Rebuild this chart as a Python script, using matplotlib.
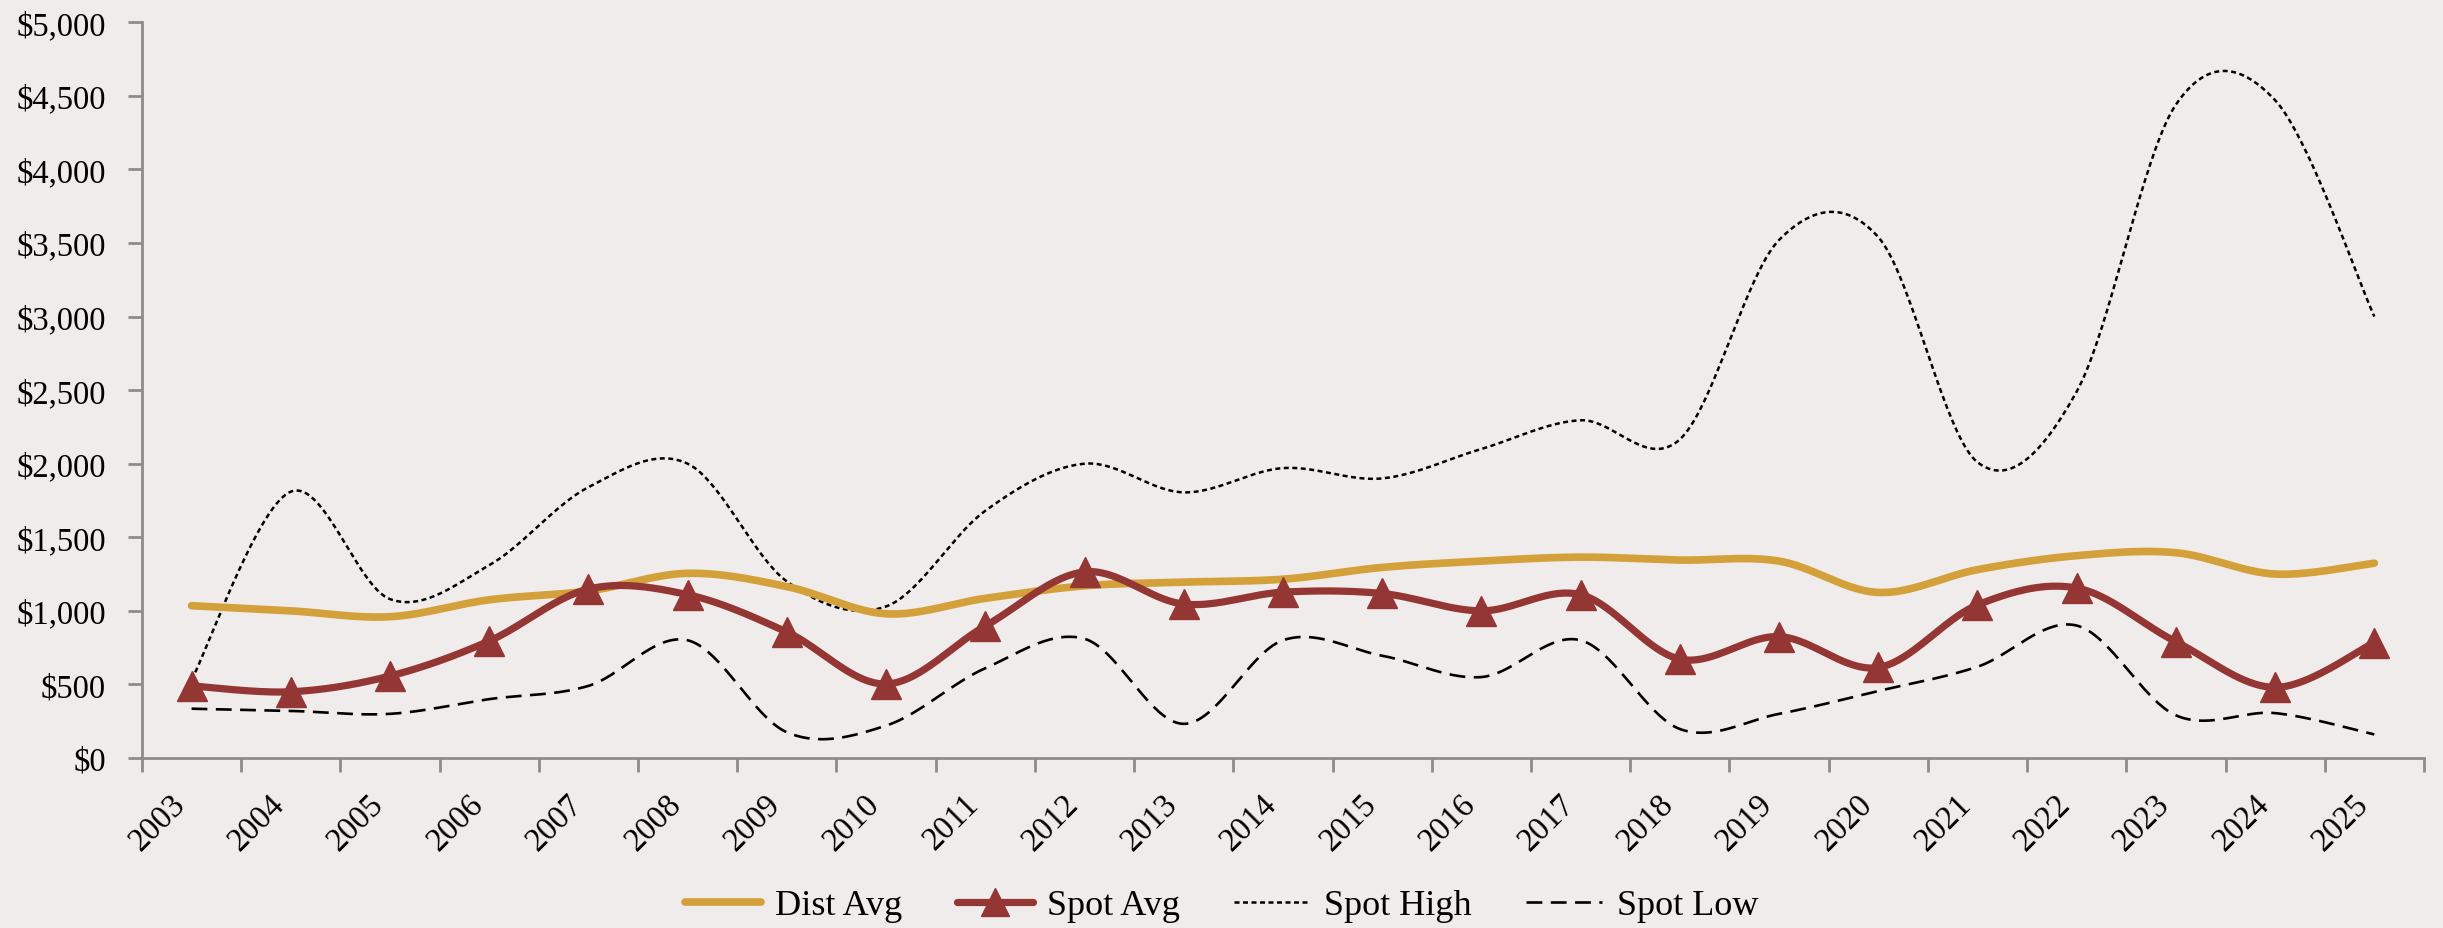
import numpy as np
import matplotlib
matplotlib.use("Agg")
import matplotlib.pyplot as plt
from matplotlib.ticker import FuncFormatter, MultipleLocator
from matplotlib.lines import Line2D

years = [str(y) for y in range(2003, 2026)]
dist_avg = [1035, 1000, 960, 1075, 1135, 1255, 1165, 980, 1085, 1170, 1195, 1215,
            1295, 1338, 1365, 1345, 1338, 1125, 1280, 1375, 1395, 1250, 1324]
spot_avg = [490, 450, 557, 795, 1148, 1110, 856, 503, 897, 1265, 1046, 1127,
            1118, 1000, 1110, 672, 825, 615, 1040, 1155, 790, 480, 784]
spot_high = [530, 1810, 1080, 1310, 1840, 2000, 1200, 1030, 1680, 2000, 1805, 1970,
             1900, 2100, 2295, 2165, 3520, 3540, 2010, 2490, 4440, 4470, 3000]
spot_low = [335, 320, 300, 400, 490, 800, 175, 220, 610, 810, 232, 800,
            695, 550, 800, 197, 300, 455, 620, 900, 290, 305, 160]

BG = "#F0ECEB"
GOLD = "#D4A03A"
MAROON = "#943634"
AXIS = "#8C8C8C"
FONT = "Liberation Serif"


def smooth(xs, ys, n=40):
    """Excel-style smoothed line: cubic Bezier with Catmull-Rom control points."""
    xs = np.asarray(xs, float)
    ys = np.asarray(ys, float)
    px = np.concatenate([[xs[0]], xs, [xs[-1]]])
    py = np.concatenate([[ys[0]], ys, [ys[-1]]])
    outx, outy = [], []
    t = np.linspace(0, 1, n)
    for i in range(1, len(px) - 2):
        p0x, p0y = px[i], py[i]
        p3x, p3y = px[i + 1], py[i + 1]
        c1x = p0x + (px[i + 1] - px[i - 1]) / 6
        c1y = p0y + (py[i + 1] - py[i - 1]) / 6
        c2x = p3x - (px[i + 2] - px[i]) / 6
        c2y = p3y - (py[i + 2] - py[i]) / 6
        a = (1 - t) ** 3
        b = 3 * (1 - t) ** 2 * t
        c = 3 * (1 - t) * t ** 2
        d = t ** 3
        outx.extend(a * p0x + b * c1x + c * c2x + d * p3x)
        outy.extend(a * p0y + b * c1y + c * c2y + d * p3y)
    return np.array(outx), np.array(outy)


plt.rcParams["font.family"] = [FONT, "DejaVu Serif"]

fig = plt.figure(figsize=(24.43, 9.29), dpi=100, facecolor=BG)
ax = fig.add_axes([0.0581, 0.183, 0.9341, 0.792])
ax.set_facecolor(BG)

x = np.arange(len(years))

HIGH_LS = (0, (2.0, 1.4))
LOW_LS = (0, (6.0, 3.2))

sx, sy = smooth(x, spot_high)
ax.plot(sx, sy, color="black", lw=1.8, linestyle=HIGH_LS, zorder=2)
sx, sy = smooth(x, spot_low)
ax.plot(sx, sy, color="black", lw=1.9, linestyle=LOW_LS, zorder=2)
sx, sy = smooth(x, dist_avg)
ax.plot(sx, sy, color=GOLD, lw=5.5, solid_capstyle="round", zorder=3)
sx, sy = smooth(x, spot_avg)
ax.plot(sx, sy, color=MAROON, lw=5.2, solid_capstyle="round", zorder=4)
ax.plot(x, spot_avg, linestyle="none", marker="^", markersize=22, color=MAROON, zorder=5)

ax.set_xlim(-0.5, len(years) - 0.5)
ax.set_ylim(0, 5000)
ax.yaxis.set_major_locator(MultipleLocator(500))
ax.yaxis.set_major_formatter(FuncFormatter(lambda v, p: f"${v:,.0f}"))

ax.set_xticks(x)
ax.set_xticklabels(years, rotation=45, ha="right", va="top", fontsize=23.5)
ax.set_xticks(np.arange(-0.5, len(years), 1.0), minor=True)
ax.tick_params(axis="x", which="major", length=0, pad=22)
ax.tick_params(axis="x", which="minor", length=10, width=2, color=AXIS)
ax.tick_params(axis="y", which="major", length=10, width=2, color=AXIS, pad=16, labelsize=23.5)

for s in ["top", "right"]:
    ax.spines[s].set_visible(False)
for s in ["left", "bottom"]:
    ax.spines[s].set_color(AXIS)
    ax.spines[s].set_linewidth(2)

handles = [
    Line2D([], [], color=GOLD, lw=5.5, solid_capstyle="round"),
    Line2D([], [], color=MAROON, lw=5.2, marker="^", markersize=20, solid_capstyle="round"),
    Line2D([], [], color="black", lw=1.8, linestyle=HIGH_LS),
    Line2D([], [], color="black", lw=1.9, linestyle=LOW_LS),
]
labels = ["Dist Avg", "Spot Avg", "Spot High", "Spot Low"]
fig.legend(handles, labels, loc="center", bbox_to_anchor=(0.5, 0.024), ncol=4,
           frameon=False, fontsize=26, handlelength=2.1, handletextpad=0.4,
           columnspacing=1.5)

fig.savefig("out.png", dpi=100, facecolor=BG)
